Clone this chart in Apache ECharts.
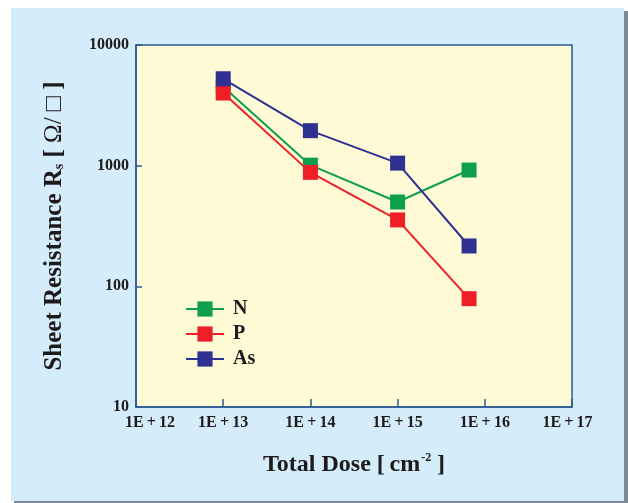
<!DOCTYPE html>
<html><head><meta charset="utf-8">
<script src="https://cdn.jsdelivr.net/npm/echarts@6/dist/echarts.min.js"></script>
<style>html,body{margin:0;padding:0;background:#fff}#c{width:628px;height:503px}</style>
</head><body><div id="c"></div>
<script>
const doses = [1e13, 1e14, 1e15, 6.6e15];
const seriesNames = ['N', 'P', 'As'];
const valuesN = [4500, 1010, 500, 920];
const valuesP = [4000, 880, 355, 79];
const valuesAs = [5250, 1950, 1050, 216];
const xTickLabels = ['1E\u2009+\u200912','1E\u2009+\u200913','1E\u2009+\u200914','1E\u2009+\u200915','1E\u2009+\u200916','1E\u2009+\u200917'];
const yTickLabels = {10:'10', 100:'100', 1000:'1000', 10000:'10000'};
const colors = ['#0E9F4E', '#EE1F26', '#2E3092'];

const serif = '"Liberation Serif","DejaVu Serif",serif';
const ink = '#1E1A1B';
const chart = echarts.init(document.getElementById('c'));
const allValues = [valuesN, valuesP, valuesAs];
const tickFont = {fontFamily:serif, fontWeight:'bold', fontSize:16, color:ink};
chart.setOption({
  backgroundColor: '#ffffff',
  animation: false,
  graphic: [
    {type:'rect', shape:{x:14,y:11,width:614,height:492}, style:{fill:'#7A8B97'}, z:-10},
    {type:'rect', shape:{x:11,y:8,width:613,height:493}, style:{fill:'#D5ECFA'}, z:-9}
  ],
  grid: {left:136, right:56, top:45, bottom:96, show:true, backgroundColor:'#FFFAD6', borderColor:'#2B5A94', borderWidth:1.5},
  legend: {
    left:185, top:299, padding:0, orient:'vertical', itemWidth:38, itemHeight:19, itemGap:5,
    data: seriesNames,
    textStyle:{fontFamily:serif, fontWeight:'bold', fontSize:20, lineHeight:20, color:ink, padding:[0,0,0,4]}
  },
  xAxis: {
    type:'log', logBase:10, min:1e12, max:1e17,
    axisLine:{lineStyle:{color:'#2B5A94', width:1.5}},
    axisTick:{inside:true, length:8, lineStyle:{color:'#2B5A94', width:1.5}},
    splitLine:{show:false},
    axisLabel:Object.assign({}, tickFont, {margin:8,
      formatter: v => {
        const k = Math.round(Math.log10(v)) - 12;
        if (k === 0) return '{first|' + xTickLabels[k] + '}';
        if (k === xTickLabels.length - 1) return '{last|' + xTickLabels[k] + '}';
        return xTickLabels[k];
      },
      rich:{
        first:Object.assign({}, tickFont, {padding:[0,0,0,28]}),
        last:Object.assign({}, tickFont, {padding:[0,9,0,0]})
      }}),
    name:'Total Dose [\u2009cm{sup|-2}\u2009]', nameLocation:'middle', nameGap:45,
    nameTextStyle:{fontFamily:serif, fontWeight:'bold', fontSize:24, color:ink,
      rich:{sup:{fontFamily:serif, fontWeight:'bold', fontSize:12, color:ink, verticalAlign:'top', padding:[0,1,13,1]}}}
  },
  yAxis: {
    type:'log', logBase:10, min:10, max:10000,
    axisLine:{lineStyle:{color:'#2B5A94', width:1.5}},
    axisTick:{inside:true, length:6, lineStyle:{color:'#2B5A94', width:1.5}},
    splitLine:{show:false},
    axisLabel:Object.assign({}, tickFont, {margin:7,
      formatter: v => yTickLabels[Math.round(v)] || String(Math.round(v))}),
    name:'Sheet Resistance R{sub|s} [ {reg|Ω/ □} ]', nameLocation:'middle', nameGap:69,
    nameTextStyle:{fontFamily:serif, fontWeight:'bold', fontSize:25, color:ink,
      rich:{
        sub:{fontFamily:serif, fontWeight:'bold', fontSize:14, color:ink, padding:[10,0,0,0]},
        reg:{fontFamily:serif, fontWeight:'normal', fontSize:25, color:ink}
      }}
  },
  series: seriesNames.map((n,i) => ({
    name:n, type:'line', symbol:'rect', symbolSize:15,
    color: colors[i],
    lineStyle:{width:2, color:colors[i]},
    itemStyle:{color:colors[i]},
    data: doses.map((d,j) => [d, allValues[i][j]])
  }))
});
</script></body></html>
